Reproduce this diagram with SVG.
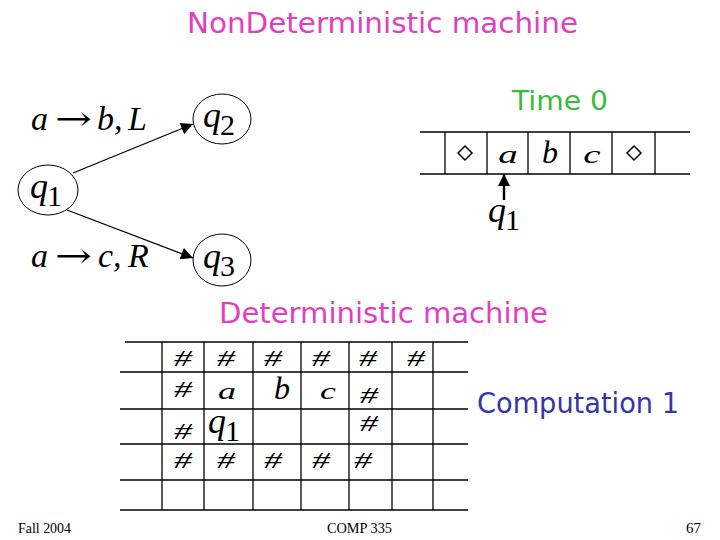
<svg xmlns="http://www.w3.org/2000/svg" width="720" height="540" viewBox="0 0 720 540">
<defs>
<marker id="ah2" viewBox="0 0 10 10" refX="10" refY="5" markerWidth="14" markerHeight="12" markerUnits="userSpaceOnUse" orient="auto"><path d="M0,0 L10,5 L0,10 z" fill="#000"/></marker>
</defs>
<style>
.t{font-family:"DejaVu Sans","Open Sans",sans-serif}
.m{font-family:"Liberation Serif","DejaVu Serif",serif;fill:#000}
.mi{font-family:"Liberation Serif","DejaVu Serif",serif;font-style:italic;fill:#000}
.ar{font-family:"DejaVu Serif",serif;fill:#000}
.st{fill:#fff;stroke:#000;stroke-width:1}
.ln{stroke:#000;stroke-width:1.3;fill:none}
.ft{font-family:"Liberation Serif",serif;font-size:14px;fill:#000}
.h{font-family:"Liberation Serif","DejaVu Serif",serif;font-style:italic;font-size:24px;fill:#000;text-anchor:middle}
</style>
<rect width="720" height="540" fill="#fff"/>
<text class="t" x="187" y="33" font-size="28" fill="#E040C0" textLength="391" lengthAdjust="spacingAndGlyphs">NonDeterministic machine</text>
<text class="t" x="512" y="110" font-size="26" fill="#3CB83C" textLength="96" lengthAdjust="spacingAndGlyphs">Time 0</text>
<text class="t" x="219" y="323" font-size="28" fill="#E040C0" textLength="329" lengthAdjust="spacingAndGlyphs">Deterministic machine</text>
<text class="t" x="477" y="413" font-size="28" fill="#3535A8" textLength="202" lengthAdjust="spacingAndGlyphs">Computation 1</text>

<g id="connectors">
<line class="ln" x1="73" y1="173" x2="193" y2="124" stroke-width="2.4" marker-end="url(#ah2)"/>
<line class="ln" x1="67" y1="210" x2="193" y2="258" stroke-width="2.4" marker-end="url(#ah2)"/>
</g>
<g id="q1">
<ellipse class="st" cx="48" cy="190" rx="30" ry="25"/>
<text class="mi" x="30" y="198" font-size="36">q</text><text class="m" x="47" y="206" font-size="30">1</text>
</g>
<g id="q2">
<ellipse class="st" cx="222" cy="119" rx="29" ry="25"/>
<text class="mi" x="203" y="127" font-size="36">q</text><text class="m" x="220" y="135" font-size="30">2</text>
</g>
<g id="q3">
<ellipse class="st" cx="222" cy="260" rx="29" ry="26"/>
<text class="mi" x="203" y="268" font-size="36">q</text><text class="m" x="220" y="276" font-size="30">3</text>
</g>
<g id="label1"><text class="mi" x="31" y="130" font-size="34">a</text><text class="ar" x="55" y="130" font-size="34" textLength="37" lengthAdjust="spacingAndGlyphs">→</text><text class="mi" x="97" y="130" font-size="34">b,</text><text class="mi" x="128" y="130" font-size="34">L</text></g>
<g id="label2"><text class="mi" x="31" y="267" font-size="34">a</text><text class="ar" x="55" y="267" font-size="34" textLength="37" lengthAdjust="spacingAndGlyphs">→</text><text class="mi" x="98" y="267" font-size="34">c,</text><text class="mi" x="128" y="267" font-size="34">R</text></g>

<g id="tape">
<line class="ln" x1="420" y1="132" x2="690" y2="132"/>
<line class="ln" x1="420" y1="174" x2="690" y2="174"/>
<line class="ln" x1="445" y1="132" x2="445" y2="174"/>
<line class="ln" x1="487" y1="132" x2="487" y2="174"/>
<line class="ln" x1="528" y1="132" x2="528" y2="174"/>
<line class="ln" x1="570" y1="132" x2="570" y2="174"/>
<line class="ln" x1="612" y1="132" x2="612" y2="174"/>
<line class="ln" x1="655" y1="132" x2="655" y2="174"/>
<path d="M465,146 L472,153 L465,160 L458,153 z" fill="none" stroke="#000" stroke-width="1.5"/>
<path d="M634,146 L641,153 L634,160 L627,153 z" fill="none" stroke="#000" stroke-width="1.5"/>
<text class="mi" x="508" y="163" font-size="26" text-anchor="middle" transform="translate(508 0) scale(1.5 1) translate(-508 0)">a</text>
<text class="mi" x="550" y="163" font-size="32" text-anchor="middle">b</text>
<text class="mi" x="592" y="163" font-size="26" text-anchor="middle" transform="translate(592 0) scale(1.5 1) translate(-592 0)">c</text>
<line x1="504" y1="200" x2="504" y2="174" stroke="#000" stroke-width="2.4" marker-end="url(#ah2)"/>
<text class="mi" x="488" y="222" font-size="36">q</text><text class="m" x="505" y="230" font-size="30">1</text>
</g>

<g id="grid">
<line class="ln" x1="125" y1="342" x2="468" y2="342"/>
<line class="ln" x1="120" y1="372" x2="468" y2="372"/>
<line class="ln" x1="120" y1="409" x2="468" y2="409"/>
<line class="ln" x1="120" y1="444" x2="468" y2="444"/>
<line class="ln" x1="120" y1="480" x2="468" y2="480"/>
<line class="ln" x1="120" y1="510" x2="468" y2="510"/>
<line class="ln" x1="162" y1="342" x2="162" y2="510"/>
<line class="ln" x1="204" y1="342" x2="204" y2="510"/>
<line class="ln" x1="253" y1="342" x2="253" y2="510"/>
<line class="ln" x1="301" y1="342" x2="301" y2="510"/>
<line class="ln" x1="349" y1="342" x2="349" y2="510"/>
<line class="ln" x1="392" y1="342" x2="392" y2="510"/>
<line class="ln" x1="433" y1="342" x2="433" y2="510"/>
<text class="h" x="183" y="366" textLength="18" lengthAdjust="spacingAndGlyphs">#</text><text class="h" x="226" y="366" textLength="18" lengthAdjust="spacingAndGlyphs">#</text><text class="h" x="273" y="366" textLength="18" lengthAdjust="spacingAndGlyphs">#</text><text class="h" x="321" y="366" textLength="18" lengthAdjust="spacingAndGlyphs">#</text><text class="h" x="368" y="366" textLength="18" lengthAdjust="spacingAndGlyphs">#</text><text class="h" x="416" y="366" textLength="18" lengthAdjust="spacingAndGlyphs">#</text>
<text class="h" x="183" y="397" textLength="18" lengthAdjust="spacingAndGlyphs">#</text><text class="h" x="369" y="403" textLength="18" lengthAdjust="spacingAndGlyphs">#</text>
<text class="h" x="183" y="439" textLength="18" lengthAdjust="spacingAndGlyphs">#</text><text class="h" x="369" y="431" textLength="18" lengthAdjust="spacingAndGlyphs">#</text>
<text class="h" x="183" y="468" textLength="18" lengthAdjust="spacingAndGlyphs">#</text><text class="h" x="226" y="468" textLength="18" lengthAdjust="spacingAndGlyphs">#</text><text class="h" x="273" y="468" textLength="18" lengthAdjust="spacingAndGlyphs">#</text><text class="h" x="321" y="468" textLength="18" lengthAdjust="spacingAndGlyphs">#</text><text class="h" x="363" y="468" textLength="18" lengthAdjust="spacingAndGlyphs">#</text>
<text class="mi" x="227" y="399" font-size="24" text-anchor="middle" transform="translate(227 0) scale(1.5 1) translate(-227 0)">a</text>
<text class="mi" x="282" y="399" font-size="32" text-anchor="middle">b</text>
<text class="mi" x="328" y="399" font-size="24" text-anchor="middle" transform="translate(328 0) scale(1.5 1) translate(-328 0)">c</text>
<text class="mi" x="208" y="433" font-size="36">q</text><text class="m" x="225" y="441" font-size="30">1</text>
</g>

<text class="ft" x="18" y="533" textLength="53" lengthAdjust="spacingAndGlyphs">Fall 2004</text>
<text class="ft" x="327" y="533" textLength="65" lengthAdjust="spacingAndGlyphs">COMP 335</text>
<text class="ft" x="686" y="533" textLength="15" lengthAdjust="spacingAndGlyphs">67</text>
</svg>
